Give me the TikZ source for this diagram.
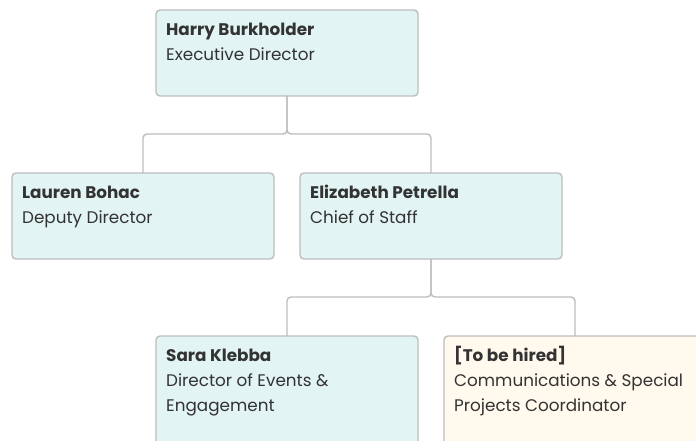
\documentclass[tikz,border=0pt]{standalone}
\usepackage{fontspec}
\setmainfont{Poppins}
\definecolor{boxline}{HTML}{BDBDBD}
\definecolor{boxfill}{HTML}{E2F4F4}
\definecolor{hirefill}{HTML}{FFF9EE}
\definecolor{txt}{HTML}{333333}
\newcommand{\toprow}{\vphantom{[Hk}}
\begin{document}
\begin{tikzpicture}[x=1pt,y=-1pt,
  card/.style={draw=boxline, line width=1.4pt, fill=boxfill, rounded corners=4pt,
    minimum width=262pt, minimum height=86pt, anchor=north west, inner sep=0pt, outer sep=0pt},
  label/.style={anchor=north west, inner sep=0pt, align=left, text=txt,
    font=\fontsize{16.8}{25}\selectfont},
  link/.style={draw=boxline, line width=1.4pt, rounded corners=4pt}]
\useasboundingbox (0,0) rectangle (696,441);
\begin{scope}
\clip (0,0) rectangle (696,441);
\node[card] (harry) at (156,10) {};
\node[card] (lauren) at (12,173) {};
\node[card] (eliz) at (300,173) {};
\node[card, minimum height=120pt] (sara) at (156,336) {};
\node[card, minimum height=120pt, fill=hirefill] (hire) at (444,336) {};
\end{scope}
\node[label] (tharry) at ([shift={(10,10)}]harry.north west) {\toprow\textbf{Harry Burkholder}\\Executive Director};
\node[label] (tlauren) at ([shift={(10,10)}]lauren.north west) {\toprow\textbf{Lauren Bohac}\\Deputy Director};
\node[label] (teliz) at ([shift={(10,10)}]eliz.north west) {\toprow\textbf{Elizabeth Petrella}\\Chief of Staff};
\node[label] (tsara) at ([shift={(10,10)}]sara.north west) {\toprow\textbf{Sara Klebba}\\Director of Events \&\\Engagement};
\node[label] (thire) at ([shift={(10,10)}]hire.north west) {\toprow\textbf{[To be hired]}\\Communications \& Special\\Projects Coordinator};
\coordinate (j1) at (287,134);
\coordinate (j2) at (431,297);
\draw[link] (harry.south) -- (j1) -| (lauren.north);
\draw[link] (harry.south) -- (j1) -| (eliz.north);
\draw[link] (eliz.south) -- (j2) -| (sara.north);
\draw[link] (eliz.south) -- (j2) -| (hire.north);
\end{tikzpicture}
\end{document}
